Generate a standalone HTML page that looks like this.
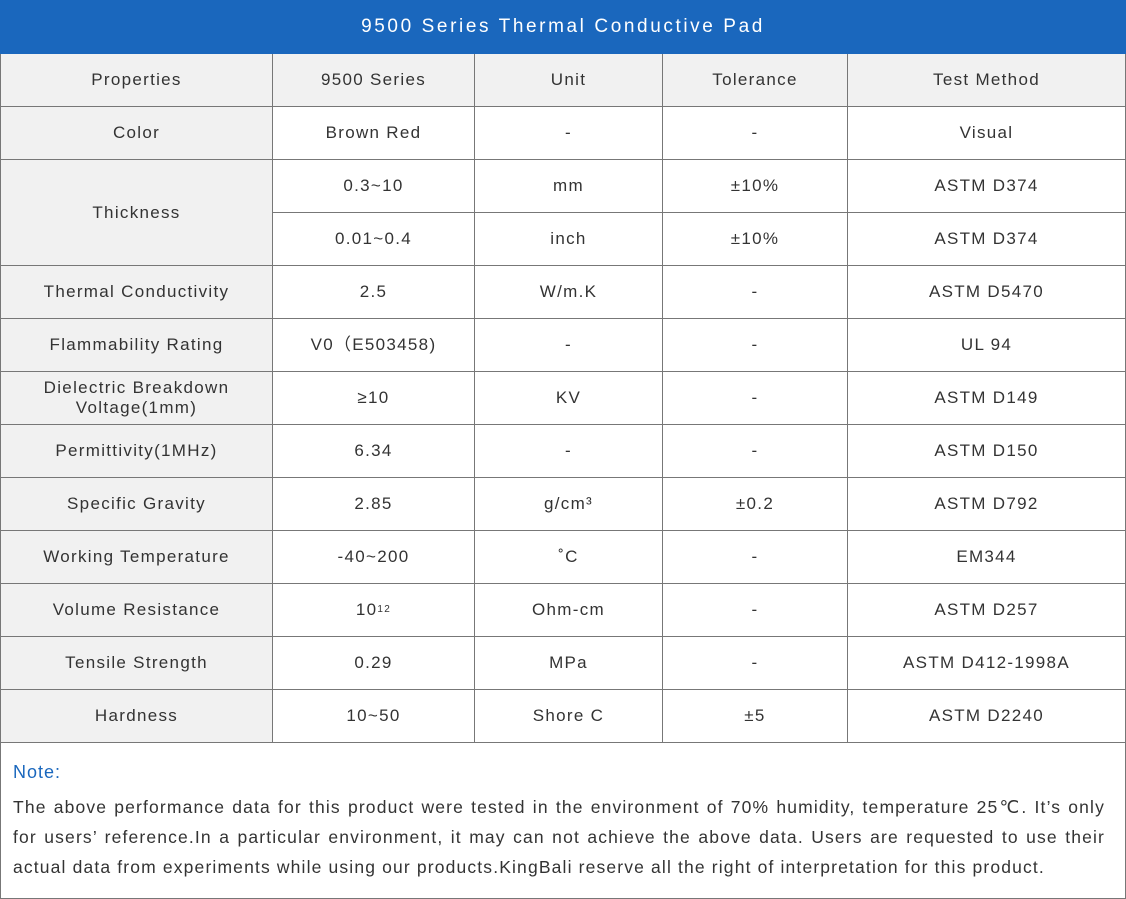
<!DOCTYPE html>
<html><head><meta charset="utf-8"><style>
*{margin:0;padding:0;box-sizing:border-box}
body{width:1126px;height:899px;position:relative;background:#fff;font-family:"Liberation Sans",sans-serif;color:#333;overflow:hidden}
.c{position:absolute;display:flex;align-items:center;justify-content:center;text-align:center;font-size:17px;letter-spacing:1.3px;border-right:1px solid #777;border-bottom:1px solid #777;line-height:20px}
.g{background:#f1f1f1}
</style></head><body>
<div style="position:absolute;left:0;top:0;width:1126px;height:899px;border:1px solid #777"></div>
<div style="position:absolute;left:0;top:0;width:1126px;height:54px;background:#1a67bd;color:#fff;font-size:19px;letter-spacing:2.6px;display:flex;align-items:center;justify-content:center">9500 Series Thermal Conductive Pad</div>
<div id="t"></div>
<div style="position:absolute;left:13px;top:762px;color:#1a67bd;font-size:18px;letter-spacing:1px">Note:</div>
<div style="position:absolute;left:13px;top:792px;width:1092px;font-size:17.5px;line-height:30px;letter-spacing:1.15px;text-align:justify;color:#333">The above performance data for this product were tested in the environment of 70% humidity, temperature 25℃. It’s only for users’ reference.In a particular environment, it may can not achieve the above data. Users are requested to use their actual data from experiments while using our products.KingBali reserve all the right of interpretation for this product.</div>
<script>
var xs=[0,273,475,663,848,1126];
var rows=[
["Properties","9500 Series","Unit","Tolerance","Test Method"],
["Color","Brown Red","-","-","Visual"],
["Thickness","0.3~10","mm","±10%","ASTM D374"],
[null,"0.01~0.4","inch","±10%","ASTM D374"],
["Thermal Conductivity","2.5","W/m.K","-","ASTM D5470"],
["Flammability Rating","V0（E503458)","-","-","UL 94"],
["Dielectric Breakdown<br>Voltage(1mm)","≥10","KV","-","ASTM D149"],
["Permittivity(1MHz)","6.34","-","-","ASTM D150"],
["Specific Gravity","2.85","g/cm³","±0.2","ASTM D792"],
["Working Temperature","-40~200","˚C","-","EM344"],
["Volume Resistance","10<sup style='font-size:10px'>12</sup>","Ohm-cm","-","ASTM D257"],
["Tensile Strength","0.29","MPa","-","ASTM D412-1998A"],
["Hardness","10~50","Shore C","±5","ASTM D2240"]];
var h="";
for(var r=0;r<rows.length;r++){var y=54+r*53;
for(var c=0;c<5;c++){var v=rows[r][c];if(v===null)continue;var hh=53;if(r==2&&c==0)hh=106;
var cls="c"+((c==0||r==0)?" g":"");
h+='<div class="'+cls+'" style="left:'+xs[c]+'px;top:'+y+'px;width:'+(xs[c+1]-xs[c])+'px;height:'+hh+'px'+(c==0?';border-left:1px solid #777':'')+'">'+v+'</div>';}}
document.getElementById("t").innerHTML=h;
</script>
</body></html>
